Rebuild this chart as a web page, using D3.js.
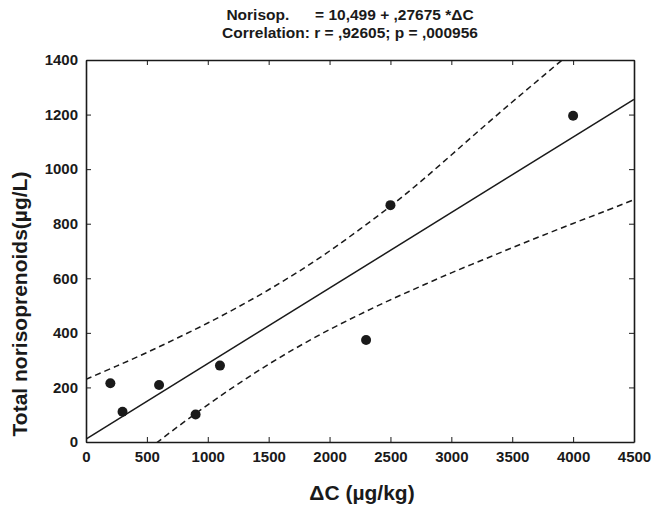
<!DOCTYPE html>
<html>
<head>
<meta charset="utf-8">
<script src="https://cdn.jsdelivr.net/npm/d3@7"></script>
<style>
  body { margin: 0; background: #fff; }
  text { font-family: "Liberation Sans", Arial, sans-serif; font-weight: bold; fill: #1a1a1a; }
</style>
</head>
<body>
<svg id="chart"></svg>
<script>
// measured points (delta C vs total norisoprenoids)
const deltaC = [200, 300, 600, 900, 1100, 2300, 2500, 4000]
const norisop = [215, 111, 209, 101, 280, 374, 868, 1196]

// fitted line, read at its two ends
const fitX = [0, 4500]
const fitY = [10.5, 1256]

// dashed 95% bands
const bandX = [0, 250, 500, 750, 1000, 1250, 1500, 1750, 2000, 2250, 2500, 2750, 3000, 3250, 3500, 3750, 4000, 4250, 4500]
const bandUpper = [230, 278, 328, 381, 436, 495, 558, 626, 700, 780, 864, 955, 1052, 1150, 1246, 1340, 1434, 1529, 1624]
const bandLower = [-209, -119, -31, 55, 136, 213, 285, 351, 412, 468, 521, 571, 620, 666, 712, 757, 801, 844, 888]

const xTicks = [0, 500, 1000, 1500, 2000, 2500, 3000, 3500, 4000, 4500]
const yTicks = [0, 200, 400, 600, 800, 1000, 1200, 1400]

const titleLines = ["Norisop.      = 10,499 + ,27675 *\u0394C", "Correlation: r = ,92605; p = ,000956"]
const xTitle = "\u0394C (\u00b5g/kg)"
const yTitle = "Total norisoprenoids(\u00b5g/L)"

const width = 653
const height = 510
const margin = { top: 60, right: 19, bottom: 68, left: 86 }

const svg = d3.select("#chart")
    .attr("width", width)
    .attr("height", height)

const x = d3.scaleLinear().domain([0, 4500]).range([margin.left, width - margin.right])
const y = d3.scaleLinear().domain([0, 1400]).range([height - margin.bottom, margin.top])

// clip so the bands stop at the frame
svg.append("clipPath").attr("id", "plotclip")
    .append("rect")
    .attr("x", x(0)).attr("y", y(1400))
    .attr("width", x(4500) - x(0)).attr("height", y(0) - y(1400))

// axes, ticks pointing inward on all four sides
const axisBottom = d3.axisBottom(x).tickValues(xTicks).tickFormat(d3.format("d")).tickSizeInner(-5).tickSizeOuter(0).tickPadding(9)
const axisLeft = d3.axisLeft(y).tickValues(yTicks).tickFormat(d3.format("d")).tickSizeInner(-5).tickSizeOuter(0).tickPadding(8)
const axisTop = d3.axisTop(x).tickValues(xTicks).tickSizeInner(-5).tickSizeOuter(0).tickFormat("")
const axisRight = d3.axisRight(y).tickValues(yTicks).tickSizeInner(-5).tickSizeOuter(0).tickFormat("")

svg.append("g").attr("transform", `translate(0,${y(0)})`).call(axisBottom)
svg.append("g").attr("transform", `translate(${x(0)},0)`).call(axisLeft)
svg.append("g").attr("transform", `translate(0,${y(1400)})`).call(axisTop)
svg.append("g").attr("transform", `translate(${x(4500)},0)`).call(axisRight)

svg.selectAll(".domain").attr("stroke", "#1a1a1a").attr("stroke-width", 1.6)
svg.selectAll(".tick line").attr("stroke", "#1a1a1a").attr("stroke-width", 1)
svg.selectAll(".tick text").style("font-size", "15px").attr("fill", "#1a1a1a")

const plot = svg.append("g").attr("clip-path", "url(#plotclip)")

// regression line
plot.append("path")
    .datum(fitX.map((d, i) => [d, fitY[i]]))
    .attr("fill", "none")
    .attr("stroke", "#1a1a1a")
    .attr("stroke-width", 1.5)
    .attr("d", d3.line().x(d => x(d[0])).y(d => y(d[1])))

// confidence bands
const bandLine = d3.line().x(d => x(d[0])).y(d => y(d[1])).curve(d3.curveCatmullRom)
;[bandUpper, bandLower].forEach(band => {
    plot.append("path")
        .datum(bandX.map((d, i) => [d, band[i]]))
        .attr("fill", "none")
        .attr("stroke", "#1a1a1a")
        .attr("stroke-width", 1.5)
        .attr("stroke-dasharray", "6,4")
        .attr("d", bandLine)
})

// points
svg.selectAll("circle.pt")
    .data(deltaC)
    .enter()
    .append("circle")
    .attr("class", "pt")
    .attr("cx", d => x(d))
    .attr("cy", (d, i) => y(norisop[i]))
    .attr("r", 5)
    .attr("fill", "#1a1a1a")

// titles
svg.selectAll("text.title")
    .data(titleLines)
    .enter()
    .append("text")
    .attr("class", "title")
    .attr("x", 350)
    .attr("y", (d, i) => 20 + i * 18)
    .attr("text-anchor", "middle")
    .style("font-size", "15.5px")
    .style("white-space", "pre")
    .text(d => d)

svg.append("text")
    .attr("x", 362)
    .attr("y", 500)
    .attr("text-anchor", "middle")
    .style("font-size", "21px")
    .text(xTitle)

svg.append("text")
    .attr("transform", `translate(27,304) rotate(-90)`)
    .attr("text-anchor", "middle")
    .style("font-size", "21px")
    .text(yTitle)
</script>
</body>
</html>
